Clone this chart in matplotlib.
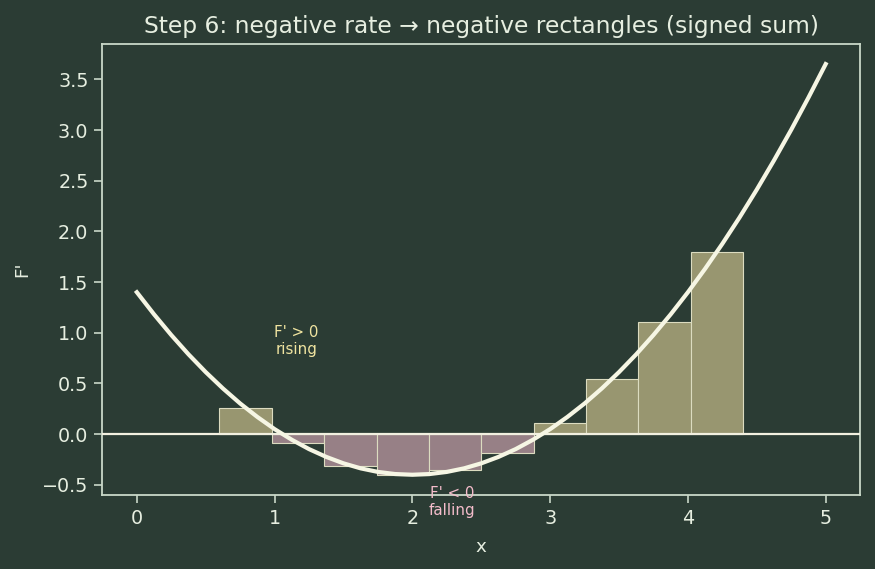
import matplotlib
matplotlib.use("Agg")
import matplotlib.pyplot as plt

# curve samples
curve_x = [0.0, 0.125, 0.25, 0.375, 0.5, 0.625, 0.75, 0.875, 1.0, 1.125, 1.25, 1.375,
           1.5, 1.625, 1.75, 1.875, 2.0, 2.125, 2.25, 2.375, 2.5, 2.625, 2.75, 2.875,
           3.0, 3.125, 3.25, 3.375, 3.5, 3.625, 3.75, 3.875, 4.0, 4.125, 4.25, 4.375,
           4.5, 4.625, 4.75, 4.875, 5.0]
curve_y = [1.4, 1.182, 0.978, 0.788, 0.6125, 0.451, 0.303, 0.170, 0.05, -0.055, -0.147, -0.224,
           -0.2875, -0.337, -0.372, -0.393, -0.4, -0.393, -0.372, -0.337, -0.2875, -0.224, -0.147, -0.055,
           0.05, 0.170, 0.303, 0.451, 0.6125, 0.788, 0.978, 1.182, 1.4, 1.632, 1.878, 2.138,
           2.4125, 2.701, 3.003, 3.320, 3.65]

# rectangles (left edges, width, heights)
bar_left = [0.60, 0.98, 1.36, 1.74, 2.12, 2.50, 2.88, 3.26, 3.64, 4.02]
bar_width = 0.38
bar_height = [0.259, -0.090, -0.309, -0.398, -0.357, -0.186, 0.115, 0.546, 1.107, 1.798]

BG = "#2b3c34"
FG = "#e6eee0"
SPINE = "#c9d8c8"

fig, ax = plt.subplots(figsize=(8.75, 5.69), dpi=100)
fig.patch.set_facecolor(BG)
ax.set_facecolor(BG)
fig.subplots_adjust(left=0.117, right=0.983, top=0.923, bottom=0.13)

colors = ["#989670" if h >= 0 else "#978086" for h in bar_height]
ax.bar(bar_left, bar_height, width=bar_width, align="edge", color=colors,
       edgecolor="#dcdcc0", linewidth=0.8, zorder=2)
ax.axhline(0, color="#f2f0e0", linewidth=1.6, zorder=3)
ax.plot(curve_x, curve_y, color="#f6f6e4", linewidth=3.0, zorder=4)

ax.text(1.16, 0.92, "F' > 0\nrising", color="#f0e4a0", fontsize=10.8, ha="center", va="center")
ax.text(2.29, -0.67, "F' < 0\nfalling", color="#f4bccb", fontsize=10.8, ha="center", va="center")

ax.set_title("Step 6: negative rate \u2192 negative rectangles (signed sum)", color=FG,
             fontsize=16.8, pad=8)
ax.set_xlabel("x", color=FG, fontsize=13.2, labelpad=7)
ax.set_ylabel("F'", color=FG, fontsize=13.2, labelpad=8)
ax.tick_params(colors=SPINE, labelcolor=FG, labelsize=13.8, length=6, width=1.2, pad=4)
for s in ax.spines.values():
    s.set_color(SPINE)
    s.set_linewidth(1.3)
ax.set_xlim(-0.25, 5.25)
ax.set_ylim(-0.6, 3.85)

fig.savefig("out.png", dpi=100, facecolor=BG)
